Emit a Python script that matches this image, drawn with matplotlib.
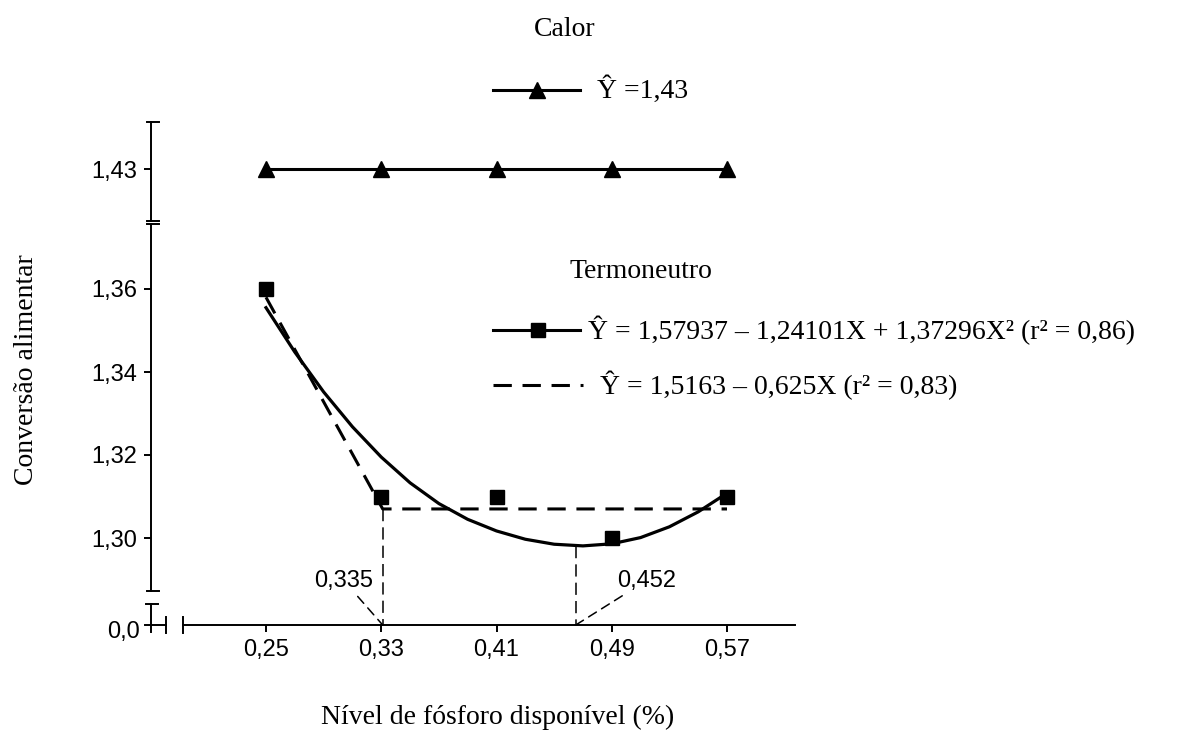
import matplotlib.pyplot as plt
import matplotlib.transforms as mtransforms
from matplotlib.lines import Line2D

# dados
nivel = [0.25, 0.33, 0.41, 0.49, 0.57]
calor = [1.43, 1.43, 1.43, 1.43, 1.43]
termoneutro = [1.36, 1.31, 1.31, 1.30, 1.31]

# curva quadrática
curva_x = [0.25, 0.27, 0.29, 0.31, 0.33, 0.35, 0.37, 0.39, 0.41,
           0.43, 0.45, 0.47, 0.49, 0.51, 0.53, 0.55, 0.57]
curva_y = [1.3555, 1.3448, 1.3352, 1.3268, 1.3195, 1.3133, 1.3083, 1.3045, 1.3017,
           1.2997, 1.2985, 1.2981, 1.2986, 1.3001, 1.3027, 1.3063, 1.3108]

# modelo linear-platô
plato_x = [0.25, 0.331, 0.57]
plato_y = [1.358, 1.307, 1.307]

# níveis ótimos: posição desenhada e rótulo
otimo_x = [0.331, 0.465]
otimo_y = [1.307, 1.298]
otimo_txt = ['0,335', '0,452']

xticks = [0.25, 0.33, 0.41, 0.49, 0.57]
xlabels = ['0,25', '0,33', '0,41', '0,49', '0,57']
yticks_low = [1.30, 1.32, 1.34, 1.36]
ylabels_low = ['1,30', '1,32', '1,34', '1,36']
yticks_up = [1.43]
ylabels_up = ['1,43']

SERIF = 'Liberation Serif'
SANS = 'Liberation Sans'

W, H = 1185, 740
fig = plt.figure(figsize=(W / 100, H / 100), dpi=100)
fig.patch.set_facecolor('white')
# transformação em pixels da imagem (y para baixo)
pix = mtransforms.Affine2D().scale(1 / W, -1 / H).translate(0, 1) + fig.transFigure


def box(l, t, r, b):
    return [l / W, 1 - b / H, (r - l) / W, (b - t) / H]


# escala (pixels por unidade)
sx = (727 - 266) / (0.57 - 0.25)
sy = (538 - 289) / (1.36 - 1.30)

ax = fig.add_axes(box(151, 224, 800, 640))
ax_up = fig.add_axes(box(151, 115, 800, 221))

xlim = (0.25 - (266 - 151) / sx, 0.25 + (800 - 266) / sx)
for a in (ax, ax_up):
    a.set_xlim(*xlim)
    a.patch.set_alpha(0)
    a.spines['top'].set_visible(False)
    a.spines['right'].set_visible(False)
    a.spines['left'].set_linewidth(1.4)
    a.tick_params(axis='both', direction='out', length=5, width=1.4,
                  labelsize=17, pad=5)

ax.set_ylim(1.30 - (640 - 538) / sy, 1.30 + (538 - 224) / sy)
ax_up.set_ylim(1.43 - (221 - 169) / sy, 1.43 + (169 - 115) / sy)

Y0 = 1.30 - (625 - 538) / sy
ax.spines['left'].set_bounds(1.30 - (591 - 538) / sy, ax.get_ylim()[1])
ax.spines['bottom'].set_position(('data', Y0))
ax.spines['bottom'].set_bounds(0.25 - (266 - 183) / sx, 0.25 + (795 - 266) / sx)
ax.spines['bottom'].set_linewidth(1.4)
ax_up.spines['left'].set_bounds(ax_up.get_ylim()[0], 1.43 + (169 - 122) / sy)
ax_up.spines['bottom'].set_visible(False)
ax_up.set_xticks([])

ax.set_xticks(xticks, labels=xlabels)
ax.set_yticks(yticks_low, labels=ylabels_low)
ax_up.set_yticks(yticks_up, labels=ylabels_up)
for a in (ax, ax_up):
    for lab in a.get_xticklabels() + a.get_yticklabels():
        lab.set_family(SANS)

# séries
ax_up.plot(nivel, calor, '-^', color='black', lw=2.2, ms=12, clip_on=False)
ax.plot(curva_x, curva_y, '-', color='black', lw=2.3, solid_joinstyle='round')
ax.plot(plato_x, plato_y, color='black', lw=2.2, dashes=(6, 3.5))
ax.plot(nivel, termoneutro, 's', color='black', ms=10)

for xo, yo, txt, off in zip(otimo_x, otimo_y, otimo_txt, [(-28, 32), (51, 32)]):
    ax.plot([xo, xo], [yo, Y0], color='black', lw=1.1, dashes=(8, 4))
    ax.annotate(txt, xy=(xo, Y0), xytext=off, textcoords='offset points',
                ha='center', va='center', fontsize=17, family=SANS,
                arrowprops=dict(arrowstyle='-', color='black', lw=1.1,
                                linestyle=(0, (6, 4)), shrinkA=2, shrinkB=0))

# quebras dos eixos
segs = [
    ([147, 159], [122, 122]), ([147, 159], [221, 221]),
    ([147, 159], [224, 224]), ([147, 159], [591, 591]),
    ([151, 151], [604, 632]), ([146, 158], [604, 604]),
    ([145, 166], [625, 625]), ([166, 166], [617, 633]),
    ([183, 183], [617, 633]),
]
for xs, ys in segs:
    fig.add_artist(Line2D(xs, ys, transform=pix, color='black', lw=1.4))
fig.text(123, 632, '0,0', transform=pix, ha='center', va='center',
         fontsize=17, family=SANS)

# legendas
fig.text(565, 30, 'Calor', transform=pix, ha='center', va='center',
         fontsize=20, family=SERIF)
fig.add_artist(Line2D([493, 580], [90, 90], transform=pix, color='black', lw=2.2))
fig.add_artist(Line2D([537], [90], transform=pix, color='black', marker='^', ms=12))
fig.text(597, 90, 'Ŷ =1,43', transform=pix, ha='left', va='center',
         fontsize=20, family=SERIF)

fig.text(570, 272, 'Termoneutro', transform=pix, ha='left', va='center',
         fontsize=20, family=SERIF)
fig.add_artist(Line2D([493, 580], [330, 330], transform=pix, color='black', lw=2.2))
fig.add_artist(Line2D([538], [330], transform=pix, color='black', marker='s', ms=10))
fig.text(588, 330, 'Ŷ = 1,57937 – 1,24101X + 1,37296X² (r² = 0,86)', transform=pix,
         ha='left', va='center', fontsize=20, family=SERIF)
fig.add_artist(Line2D([493, 583], [385, 385], transform=pix, color='black', lw=2.2,
                      dashes=(6, 3.5)))
fig.text(600, 385, 'Ŷ = 1,5163 – 0,625X (r² = 0,83)', transform=pix,
         ha='left', va='center', fontsize=20, family=SERIF)

fig.text(27, 370, 'Conversão alimentar', transform=pix, ha='center', va='center',
         rotation=90, fontsize=20, family=SERIF)
fig.text(498, 717, 'Nível de fósforo disponível (%)', transform=pix, ha='center',
         va='center', fontsize=20, family=SERIF)

fig.savefig('out.png', dpi=100, facecolor='white')
